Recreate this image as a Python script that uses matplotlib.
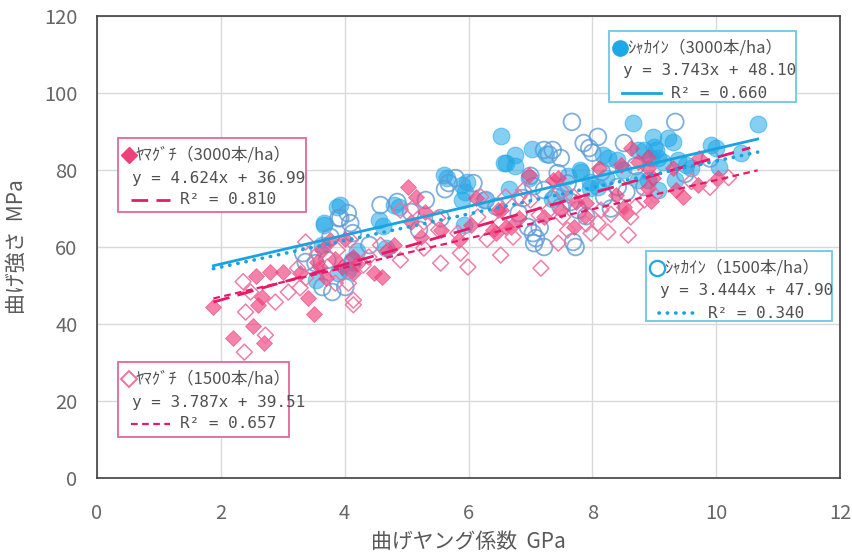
import numpy as np
import matplotlib
matplotlib.use("Agg")
import matplotlib.pyplot as plt
from matplotlib.lines import Line2D
from matplotlib.patches import Rectangle

plt.rcParams['font.family'] = ['Noto Sans CJK JP', 'DejaVu Sans']

# ヤマグチ 3000本/ha (filled diamonds)
y3_x = [1.88, 2.2, 2.52, 2.6, 2.67, 2.7, 2.57, 2.8, 3.0, 3.28, 3.4, 3.51, 3.56, 3.6, 3.64, 3.77,
        3.7, 3.85, 3.96, 4.13, 4.13, 4.0, 4.2, 4.47, 4.61, 4.69, 4.79, 5.02, 5.15, 5.3, 5.07, 5.23,
        5.55, 5.84, 6.04, 6.12, 6.47, 6.4, 6.6, 6.44, 6.52, 6.68, 6.81, 6.97, 7.22, 7.49, 7.36, 7.45,
        7.7, 7.73, 7.9, 7.88, 8.1, 8.38, 8.46, 8.51, 8.54, 8.62, 8.74, 8.9, 8.9, 8.98, 8.9, 9.3,
        9.35, 9.47, 9.71, 9.72, 10.03, 8.95]
y3_y = [44.4, 36.4, 39.5, 45.0, 47.0, 35.0, 52.5, 53.5, 53.5, 53.2, 46.8, 42.6, 56.0, 54.8, 59.2, 61.8,
        52.0, 57.0, 54.8, 57.4, 53.2, 62.0, 55.5, 53.2, 52.2, 59.2, 60.5, 75.6, 73.0, 69.0, 66.5, 62.6,
        64.4, 61.8, 65.7, 72.7, 69.6, 64.4, 65.2, 63.6, 69.6, 65.2, 67.5, 78.7, 67.8, 69.6, 77.4, 78.0,
        65.2, 71.7, 71.5, 68.0, 80.5, 73.5, 81.3, 70.4, 68.8, 85.7, 82.0, 80.5, 75.3, 78.0, 83.4, 80.5,
        74.8, 73.0, 76.0, 83.0, 78.0, 72.0]

# ヤマグチ 1500本/ha (open diamonds)
y1_x = [2.36, 2.48, 2.4, 2.88, 2.72, 2.38, 3.09, 3.28, 3.37, 3.37, 3.24, 4.14, 3.85, 4.06, 3.72, 3.88,
        4.09, 3.55, 4.14, 4.3, 4.39, 4.58, 4.9, 5.28, 5.55, 5.99, 6.52, 5.87, 5.83, 5.52, 4.9, 5.28,
        5.1, 5.5, 6.15, 6.2, 6.5, 6.72, 7.17, 8.58, 8.25, 7.98, 7.6, 7.52, 7.3, 7.14, 7.0, 6.81,
        6.6, 6.89, 7.49, 7.7, 8.14, 8.3, 8.62, 8.84, 8.7, 8.09, 7.9, 9.0, 9.6, 9.9, 10.2, 7.45, 6.3]
y1_y = [51.0, 48.3, 43.1, 45.7, 37.1, 32.7, 48.3, 49.4, 52.0, 61.3, 54.5, 45.0, 50.6, 50.6, 54.8, 59.2,
        61.8, 58.0, 46.2, 55.3, 57.4, 60.5, 56.6, 59.7, 55.8, 54.8, 57.9, 58.4, 63.6, 64.4, 69.6, 66.5,
        70.1, 67.5, 67.8, 73.0, 66.0, 62.6, 54.5, 63.1, 63.9, 63.6, 64.4, 67.8, 69.5, 68.3, 72.2, 73.0,
        73.0, 74.8, 74.8, 73.0, 69.6, 68.5, 67.8, 72.2, 70.5, 66.2, 66.0, 73.5, 77.0, 75.5, 78.0, 61.0, 62.0]

# シャカイン 3000本/ha (filled circles)
s3_x = [3.53, 3.64, 3.66, 3.87, 3.66, 3.9, 4.05, 4.12, 4.2, 3.93, 4.55, 4.62, 4.66, 4.79, 4.88, 5.6,
        5.66, 5.9, 5.95, 5.98, 5.9, 5.92, 6.25, 6.57, 6.53, 6.6, 6.75, 6.75, 7.03, 7.25, 6.97, 7.8,
        7.81, 7.96, 7.97, 8.18, 8.25, 8.4, 8.66, 8.74, 8.98, 9.0, 8.95, 9.06, 8.22, 8.09, 8.74, 9.06,
        10.67, 8.84, 9.03, 9.22, 9.3, 9.14, 9.39, 9.51, 9.33, 9.92, 10.0, 10.05, 9.6, 8.9, 7.55, 7.6,
        8.5, 10.4, 6.65, 7.35]
s3_y = [51.4, 60.5, 65.7, 70.4, 66.2, 53.2, 54.0, 56.5, 59.0, 70.9, 67.0, 65.5, 59.7, 70.9, 70.5, 78.7,
        77.9, 76.1, 74.3, 76.8, 72.2, 65.7, 72.2, 81.8, 88.8, 81.8, 84.0, 81.0, 85.5, 84.2, 78.0, 80.0,
        79.5, 75.3, 77.0, 84.0, 83.0, 82.6, 92.2, 85.2, 88.6, 86.0, 83.1, 83.1, 78.0, 75.6, 77.4, 74.8,
        92.0, 85.2, 85.2, 88.3, 87.3, 82.0, 82.6, 81.3, 77.4, 86.5, 85.7, 80.8, 80.5, 77.5, 74.0, 78.5,
        80.0, 84.5, 75.0, 72.5]

# シャカイン 1500本/ha (open circles)
s1_x = [3.77, 3.33, 3.37, 3.53, 3.72, 3.8, 3.64, 4.01, 4.13, 3.9, 4.05, 4.09, 4.13, 4.58, 4.85, 5.31,
        5.07, 5.55, 5.79, 5.68, 5.62, 6.08, 6.28, 3.93, 7.67, 7.06, 7.22, 7.73, 7.09, 7.69, 7.04, 7.15,
        7.22, 7.36, 7.49, 7.3, 8.09, 7.95, 7.86, 8.0, 7.77, 7.65, 7.49, 7.41, 7.22, 7.05, 6.88, 6.81,
        6.96, 7.44, 7.6, 8.19, 8.41, 8.55, 8.51, 8.84, 8.15, 9.34, 9.5, 8.3, 7.9, 6.45, 5.2, 4.4,
        9.9, 7.0, 8.7]
s1_y = [62.6, 58.4, 56.1, 55.8, 56.6, 48.3, 49.6, 49.6, 56.0, 67.5, 68.8, 66.2, 63.6, 70.9, 71.7, 72.2,
        69.1, 67.5, 77.9, 76.6, 75.0, 76.6, 72.2, 67.5, 92.5, 61.0, 60.0, 60.0, 62.3, 61.3, 63.6, 65.0,
        85.2, 85.2, 83.1, 84.0, 88.6, 85.7, 87.0, 84.5, 69.6, 71.7, 70.4, 73.0, 74.8, 75.8, 72.7, 68.8,
        65.2, 79.2, 76.5, 73.0, 75.6, 74.3, 87.0, 75.6, 79.5, 92.5, 79.0, 70.0, 68.0, 70.5, 64.5, 60.5,
        83.0, 78.5, 81.0]

# trend lines: slope, intercept, R^2, x range
titles = ['ﾔﾏｸﾞﾁ（3000本/ha）', 'ｼｬｶｲﾝ（3000本/ha）', 'ｼｬｶｲﾝ（1500本/ha）', 'ﾔﾏｸﾞﾁ（1500本/ha）']
slopes = [4.624, 3.743, 3.444, 3.787]
intercepts = [36.99, 48.10, 47.90, 39.51]
r2 = [0.810, 0.660, 0.340, 0.657]
x_start = [1.88, 1.88, 1.88, 1.88]
x_end = [10.55, 10.67, 10.67, 10.67]

pink = '#E8196A'
pink_fill = '#F0407A'
pink_open = '#F0719D'
blue = '#1AA3E0'
blue_fill = '#1FA8E8'
blue_open = '#5E9BD8'

W, H = 852, 555
fig = plt.figure(figsize=(W / 100, H / 100), dpi=100)
ax = fig.add_axes([97 / W, 1 - 478 / H, (840 - 97) / W, (478 - 16) / H])

ax.scatter(s3_x, s3_y, s=145, marker='o', color=blue_fill, alpha=0.55, linewidths=0.8, zorder=3)
ax.scatter(s1_x, s1_y, s=145, marker='o', facecolors='none', edgecolors=blue_open, alpha=0.8,
           linewidths=1.3, zorder=3)
ax.scatter(y3_x, y3_y, s=66, marker='D', color=pink_fill, alpha=0.65, linewidths=0.6, zorder=4)
ax.scatter(y1_x, y1_y, s=66, marker='D', facecolors='none', edgecolors=pink_open, alpha=0.9,
           linewidths=1.1, zorder=4)

styles = [
    dict(color=pink, lw=2.0, dashes=(6, 3)),
    dict(color=blue, lw=2.0, linestyle='-'),
    dict(color=blue, lw=2.6, dashes=(0.1, 2.2), dash_capstyle='round'),
    dict(color=pink, lw=1.6, dashes=(3, 2)),
]
for i in range(4):
    xs = np.array([x_start[i], x_end[i]])
    ax.plot(xs, slopes[i] * xs + intercepts[i], zorder=5, **styles[i])

ax.set_xlim(0, 12)
ax.set_ylim(0, 120)
ax.set_xticks(range(0, 13, 2))
ax.set_yticks(range(0, 121, 20))
ax.grid(True, color='#D9D9D9', lw=1.0)
ax.set_axisbelow(True)
for sp in ax.spines.values():
    sp.set_color('#404040')
    sp.set_linewidth(1.2)
ax.tick_params(length=0, labelsize=14.5, labelcolor='#666666')
ax.tick_params(axis='x', pad=18)
ax.tick_params(axis='y', pad=14)
ax.set_xlabel('曲げヤング係数  GPa', fontsize=15, color='#595959', labelpad=5)
ax.set_ylabel('曲げ強さ  MPa', fontsize=15, color='#595959', labelpad=12)


def fx(px):
    return px / W


def fy(py):
    return 1 - py / H


# legend boxes: rect (x0, y0, x1, y1) in pixels
boxes = [(118, 138, 306, 212), (609, 31, 796, 102), (646, 251, 832, 321), (118, 362, 289, 437)]
edge_cols = ['#E5679A', '#6CC8E0', '#6CC8E0', '#E5679A']
mk = [dict(marker='D', color=pink_fill, ms=8, mfc=pink_fill),
      dict(marker='o', color=blue_fill, ms=11, mfc=blue_fill),
      dict(marker='o', color=blue_fill, ms=11, mfc='none', mew=1.6),
      dict(marker='D', color=pink_open, ms=8, mfc='none', mew=1.4)]

for i, (x0, y0, x1, y1) in enumerate(boxes):
    fig.add_artist(Rectangle((fx(x0), fy(y1)), fx(x1 - x0), (y1 - y0) / H, transform=fig.transFigure,
                             facecolor='white', edgecolor=edge_cols[i], lw=1.3, zorder=10))
    ty = y0 + 17
    fig.add_artist(Line2D([fx(x0 + 11)], [fy(ty)], transform=fig.transFigure, linestyle='none',
                          zorder=11, **mk[i]))
    fig.text(fx(x0 + 18), fy(ty), titles[i], fontsize=12, color='#505050', va='center', zorder=11)
    eq = f'y = {slopes[i]:.3f}x + {intercepts[i]:.2f}'
    fig.text(fx(x0 + 14), fy(ty + 23), eq, fontsize=11.5, color='#505050', va='center', zorder=11,
             family='DejaVu Sans Mono')
    ly = ty + 45
    fig.add_artist(Line2D([fx(x0 + 13), fx(x0 + 52)], [fy(ly), fy(ly)], transform=fig.transFigure,
                          zorder=11, **styles[i]))
    fig.text(fx(x0 + 62), fy(ly), f'R² = {r2[i]:.3f}', fontsize=11.5, color='#505050', va='center',
             zorder=11, family='DejaVu Sans Mono')

fig.savefig('out.png', dpi=100)
